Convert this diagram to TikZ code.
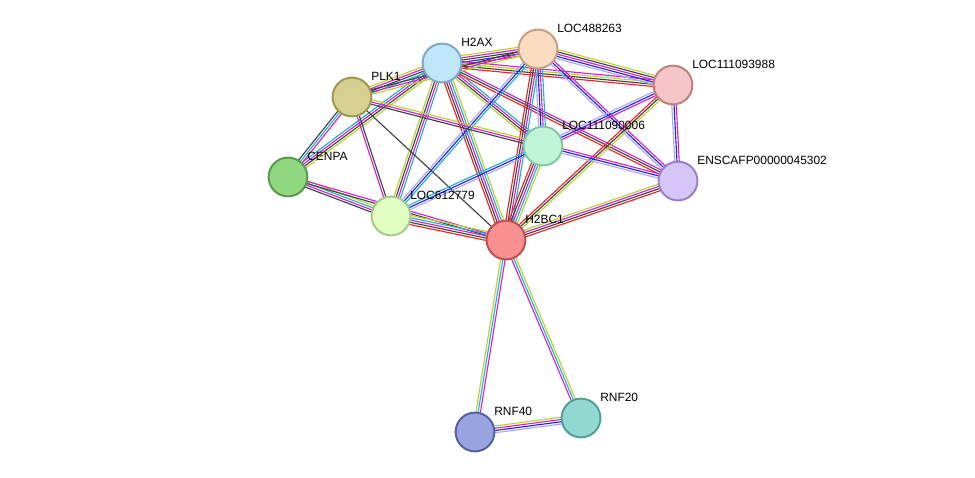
\documentclass[tikz,border=0pt]{standalone}
\usepackage{fontspec}
\setmainfont{Liberation Sans}
\usetikzlibrary{calc,backgrounds}
\definecolor{cR}{HTML}{F02020}
\definecolor{cB}{HTML}{2020F0}
\definecolor{cL}{HTML}{A8A8FF}
\definecolor{cK}{HTML}{404040}
\definecolor{cM}{HTML}{D020D0}
\definecolor{cC}{HTML}{20B0D0}
\definecolor{cY}{HTML}{B8D030}
% bundle of coloured parallel lines between two nodes
\newcommand\multiedge[4]{%
\foreach \c [count=\i] in {#4}
{ \pgfmathsetmacro\d{(\i-(#3+1)/2)*1.6}
  \draw[\c, line width=0.8pt] ($(#1)!\d pt!90:(#2)$) -- ($(#2)!\d pt!-90:(#1)$);
}}
\tikzset{
prot/.style={circle, minimum size=0.97cm, line width=1.4pt, inner sep=0pt},
lbl/.style={anchor=west, font=\fontsize{8.5}{10}\selectfont, inner sep=0pt}
}
\begin{document}
\begin{tikzpicture}[x=0.025cm, y=-0.025cm]
\useasboundingbox (0,0) rectangle (975,478);

\node[prot, fill={rgb,255:red,192;green,230;blue,251}, draw={rgb,255:red,127;green,168;blue,200}] (h2ax) at (442,63) {};
\node[prot, fill={rgb,255:red,251;green,220;blue,192}, draw={rgb,255:red,200;green,160;blue,127}] (loc488) at (538,49) {};
\node[prot, fill={rgb,255:red,245;green,198;blue,198}, draw={rgb,255:red,192;green,128;blue,128}] (loc988) at (673,85) {};
\node[prot, fill={rgb,255:red,216;green,208;blue,144}, draw={rgb,255:red,154;green,154;blue,80}] (plk1) at (352,97) {};
\node[prot, fill={rgb,255:red,192;green,245;blue,216}, draw={rgb,255:red,128;green,200;blue,160}] (loc006) at (543,146) {};
\node[prot, fill={rgb,255:red,214;green,198;blue,248}, draw={rgb,255:red,154;green,128;blue,200}] (enscafp) at (678,181) {};
\node[prot, fill={rgb,255:red,144;green,216;blue,128}, draw={rgb,255:red,90;green,154;blue,80}] (cenpa) at (288,177) {};
\node[prot, fill={rgb,255:red,224;green,255;blue,192}, draw={rgb,255:red,168;green,200;blue,144}] (loc779) at (391,216) {};
\node[prot, fill={rgb,255:red,248;green,144;blue,144}, draw={rgb,255:red,192;green,80;blue,80}] (h2bc1) at (506,240) {};
\node[prot, fill={rgb,255:red,154;green,164;blue,224}, draw={rgb,255:red,85;green,96;blue,160}] (rnf40) at (475,432) {};
\node[prot, fill={rgb,255:red,144;green,216;blue,208}, draw={rgb,255:red,80;green,160;blue,152}] (rnf20) at (581,418) {};

\begin{scope}[on background layer]
\multiedge{h2ax}{loc488}{5}{cR,cB,cK,cM,cY}
\multiedge{h2ax}{plk1}{4}{cY,cM,cK,cC}
\multiedge{h2ax}{cenpa}{4}{cC,cM,cK,cY}
\multiedge{h2ax}{loc779}{4}{cY,cK,cM,cC}
\multiedge{h2ax}{h2bc1}{5}{cR,cK,cM,cC,cY}
\multiedge{h2ax}{loc006}{4}{cY,cK,cM,cC}
\multiedge{h2ax}{loc988}{4}{cR,cK,cY,cM}
\multiedge{h2ax}{enscafp}{3}{cR,cK,cM}
\multiedge{loc488}{plk1}{3}{cK,cM,cY}
\multiedge{loc488}{loc988}{5}{cL,cB,cM,cK,cY}
\multiedge{loc488}{loc006}{4}{cL,cB,cM,cC}
\multiedge{loc488}{enscafp}{3}{cL,cB,cM}
\multiedge{loc488}{h2bc1}{4}{cR,cK,cM,cC}
\multiedge{loc488}{loc779}{3}{cL,cB,cC}
\multiedge{loc988}{enscafp}{3}{cL,cB,cM}
\multiedge{loc988}{loc006}{3}{cL,cB,cM}
\multiedge{loc988}{h2bc1}{3}{cR,cK,cY}
\multiedge{plk1}{cenpa}{3}{cK,cC,cM}
\multiedge{plk1}{loc779}{2}{cM,cK}
\multiedge{plk1}{h2bc1}{1}{cK}
\multiedge{plk1}{loc006}{3}{cK,cM,cY}
\multiedge{cenpa}{loc779}{4}{cK,cM,cC,cY}
\multiedge{cenpa}{h2bc1}{2}{cK,cM}
\multiedge{loc779}{h2bc1}{5}{cR,cK,cM,cC,cY}
\multiedge{loc779}{loc006}{3}{cL,cB,cC}
\multiedge{loc006}{h2bc1}{5}{cR,cK,cM,cC,cY}
\multiedge{loc006}{enscafp}{3}{cL,cB,cM}
\multiedge{h2bc1}{enscafp}{4}{cR,cK,cM,cY}
\multiedge{h2bc1}{rnf40}{3}{cY,cC,cM}
\multiedge{h2bc1}{rnf20}{3}{cM,cC,cY}
\multiedge{rnf40}{rnf20}{4}{cL,cB,cM,cY}
\end{scope}

\node[lbl] (t1) at ($(h2ax)+(19,-21)$) {H2AX};
\node[lbl] (t2) at ($(loc488)+(19,-21)$) {LOC488263};
\node[lbl] (t3) at ($(loc988)+(19,-21)$) {LOC111093988};
\node[lbl] (t4) at ($(plk1)+(19,-21)$) {PLK1};
\node[lbl] (t5) at ($(loc006)+(19,-21)$) {LOC111090006};
\node[lbl] (t6) at ($(enscafp)+(19,-21)$) {ENSCAFP00000045302};
\node[lbl] (t7) at ($(cenpa)+(19,-21)$) {CENPA};
\node[lbl] (t8) at ($(loc779)+(19,-21)$) {LOC612779};
\node[lbl] (t9) at ($(h2bc1)+(19,-21)$) {H2BC1};
\node[lbl] (t10) at ($(rnf40)+(19,-21)$) {RNF40};
\node[lbl] (t11) at ($(rnf20)+(19,-21)$) {RNF20};
\end{tikzpicture}
\end{document}
